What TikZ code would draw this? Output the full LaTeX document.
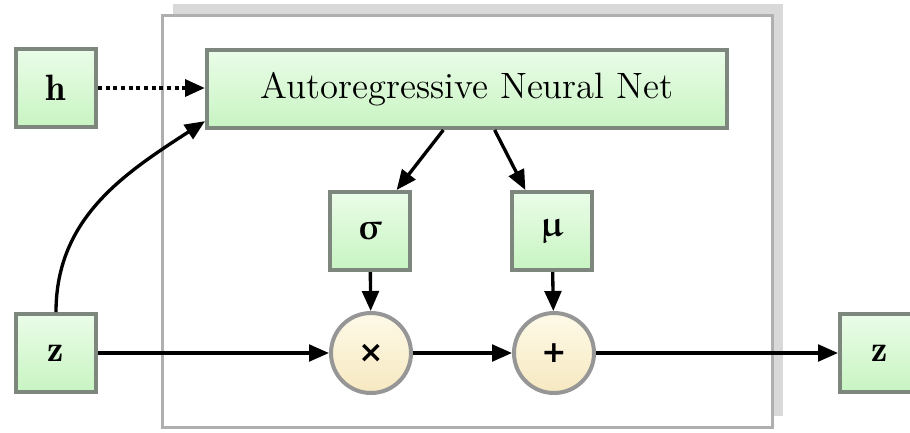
\documentclass[tikz,border=0pt]{standalone}
\definecolor{boxGray}{RGB}{125, 135, 125}
\definecolor{boxTop}{RGB}{234, 252, 232}
\definecolor{boxBottom}{RGB}{200, 244, 194}
\definecolor{opGray}{RGB}{150, 150, 150}
\definecolor{opTop}{RGB}{254, 250, 232}
\definecolor{opBottom}{RGB}{246, 232, 192}
\definecolor{frameGray}{RGB}{175, 175, 175}
\usepackage{amsmath,amssymb}
\usepackage[Euler]{upgreek}
\usepackage{fontspec}
\newfontfamily\opfont{DejaVu Sans}
\usepackage{tikz}
\usetikzlibrary{positioning, calc, arrows.meta, shadows}

\begin{document}
\begin{tikzpicture}[
    x=0.3pt, y=0.3pt,
    box/.style={rectangle, draw=boxGray, line width=1.2pt, minimum width=24pt,
                minimum height=23.4pt, top color=boxTop, bottom color=boxBottom,
                align=center, font=\fontsize{11}{13}\selectfont},
    op/.style={circle, draw=opGray, line width=1.2pt, minimum size=24pt,
               top color=opTop, bottom color=opBottom,
               font=\opfont\bfseries\small},
    arrow/.style={-{Triangle[length=6pt, width=5pt]}, line width=1pt},
  ]
    \useasboundingbox (0,0) rectangle (910,432);

    % outer frame
    \node[draw=frameGray, line width=0.7pt, fill=white, minimum width=183pt,
          minimum height=123.6pt,
          drop shadow={shadow xshift=3pt, shadow yshift=3.5pt, fill=black!25,
                       opacity=0.6}] (frame) at (467.5,210.5) {};

    \node[box] (h) at (56,344) {$\mathbf{h}$};
    \node[box, minimum width=156pt] (ann) at (467,343)
         {Autoregressive Neural Net};
    \node[box] (sigma) at (370,201) {$\boldsymbol{\upsigma}$};
    \node[box] (mu) at (552,201) {$\boldsymbol{\upmu}$};
    \node[op] (mul) at (371,79) {×};
    \node[op] (add) at (554,79) {+};
    \node[box] (zin) at (56,79) {$\mathbf{z}$};
    \node[box] (zout) at (880,79) {$\mathbf{z}$};

    \draw[arrow, line width=1.3pt, dash pattern=on 1.2pt off 1.1pt]
         (h.east) -- (ann.west |- h.east);
    \draw[arrow] (zin.north) to[out=90, in=213] (ann.187);
    \draw[arrow] (ann.240) -- (sigma.57);
    \draw[arrow] (ann.304) -- (mu.123);
    \draw[arrow] (sigma) -- (mul);
    \draw[arrow] (mu) -- (add);
    \draw[arrow] (zin) -- (mul);
    \draw[arrow] (mul) -- (add);
    \draw[arrow] (add) -- (zout);
  \end{tikzpicture}
\end{document}
